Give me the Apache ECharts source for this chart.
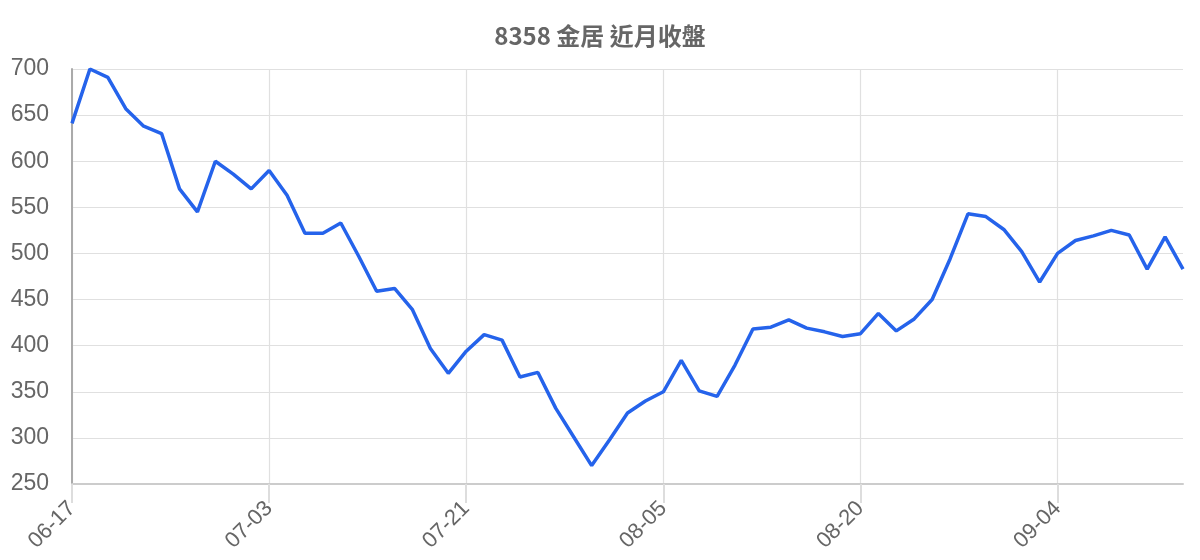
<!DOCTYPE html>
<html>
<head>
<meta charset="utf-8">
<script src="https://cdn.jsdelivr.net/npm/echarts@6/dist/echarts.min.js"></script>
<style>
  html, body { margin: 0; padding: 0; background: #fff; }
  #chart { width: 1200px; height: 560px; }
</style>
</head>
<body>
<div id="chart"></div>
<script>
// 日期 (近月交易日)
var dates = [
  '06-17', '06-18', '06-19', '06-20', '06-21', '06-24', '06-25', '06-26', '06-27', '06-28',
  '07-02', '07-03', '07-04', '07-05', '07-08', '07-09', '07-10', '07-11', '07-12', '07-15',
  '07-16', '07-17', '07-21', '07-22', '07-23', '07-24', '07-25', '07-26', '07-29', '07-30',
  '07-31', '08-01', '08-02', '08-05', '08-06', '08-07', '08-08', '08-09', '08-12', '08-13',
  '08-14', '08-15', '08-16', '08-19', '08-20', '08-21', '08-22', '08-23', '08-26', '08-27',
  '08-28', '08-29', '08-30', '09-02', '09-03', '09-04', '09-05', '09-06', '09-09', '09-10',
  '09-11', '09-12', '09-13'
];

// 收盤價
var closes = [
  641, 700, 691, 657, 638, 630, 570, 545, 600, 586,
  570, 590, 563, 522, 522, 533, 497, 459, 462, 439,
  397, 370, 394, 412, 406, 366, 371, 332, 301, 270,
  298, 327, 340, 350, 384, 351, 345, 379, 418, 420,
  428, 419, 415, 410, 413, 435, 416, 429, 450, 494,
  543, 540, 526, 502, 469, 500, 514, 519, 525, 520,
  483, 518, 483
];

var yTicks = { min: 250, max: 700, step: 50 };

var font = '"Liberation Sans", Arial, "Noto Sans CJK TC", sans-serif';

var myChart = echarts.init(document.getElementById('chart'));

var option = {
  animation: false,
  title: {
    text: '8358 金居 近月收盤',
    left: 'center',
    top: 19,
    textStyle: {
      color: '#666',
      fontSize: 24,
      fontWeight: 'bold',
      fontFamily: '"Noto Sans CJK TC", "Liberation Sans", sans-serif'
    }
  },
  grid: {
    left: 72,
    right: 17,
    top: 69,
    bottom: 76
  },
  xAxis: {
    type: 'category',
    data: dates,
    boundaryGap: false,
    axisLine: { lineStyle: { color: '#ccc', width: 2 } },
    axisTick: {
      show: true,
      interval: 10,
      length: 19,
      lineStyle: { color: '#ddd', width: 2 }
    },
    axisLabel: {
      interval: 10,
      rotate: 45,
      margin: 21,
      color: '#666',
      fontSize: 22,
      fontFamily: font
    },
    splitLine: {
      show: true,
      interval: 10,
      lineStyle: { color: '#e0e0e0', width: 1.2 }
    }
  },
  yAxis: {
    type: 'value',
    min: yTicks.min,
    max: yTicks.max,
    interval: yTicks.step,
    axisLine: { show: true, lineStyle: { color: '#aaa', width: 2 } },
    axisTick: { show: false },
    axisLabel: {
      color: '#666',
      fontSize: 23,
      margin: 23,
      fontFamily: font
    },
    splitLine: {
      lineStyle: { color: '#e0e0e0', width: 1.2 }
    }
  },
  series: [{
    name: '收盤',
    type: 'line',
    data: closes,
    showSymbol: false,
    symbol: 'none',
    lineStyle: { color: '#2563eb', width: 3.5 },
    itemStyle: { color: '#2563eb' }
  }]
};

myChart.setOption(option);
window.addEventListener('resize', function () {
  myChart.resize();
});
</script>
</body>
</html>
